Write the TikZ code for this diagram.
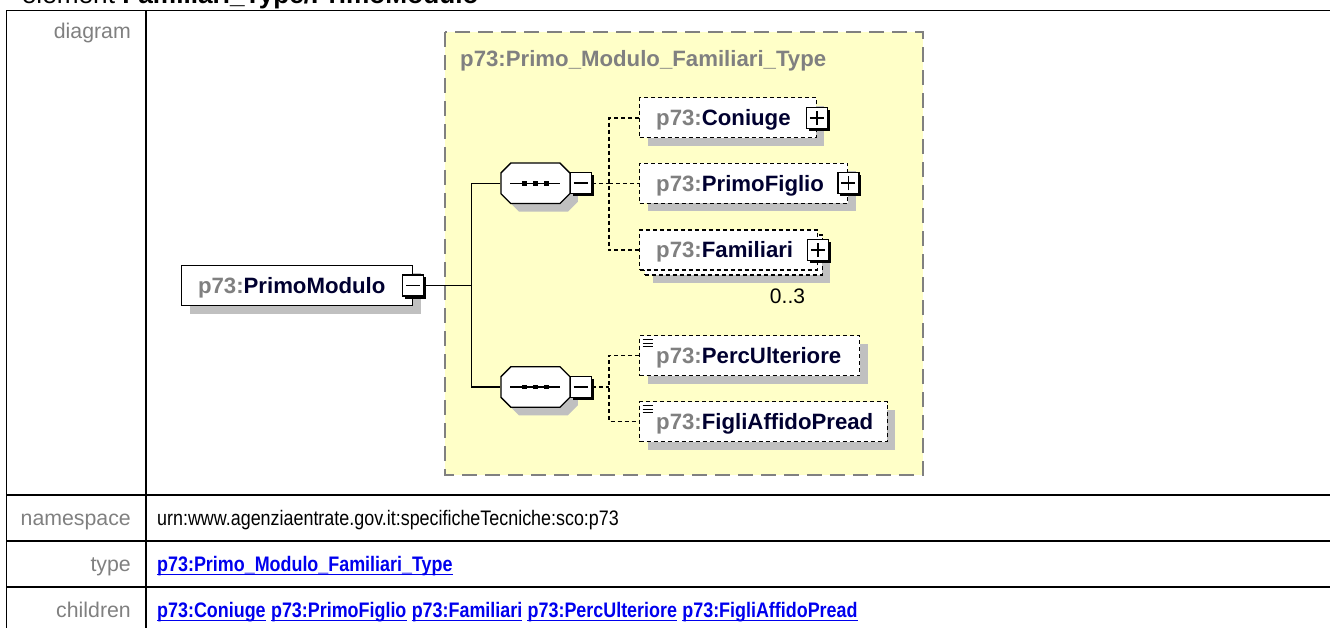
\documentclass[tikz,border=0pt]{standalone}
\usepackage{fontspec}
\setmainfont{Liberation Sans}
\newfontfamily\narrowfont[FakeStretch=0.853]{Liberation Sans}
\usetikzlibrary{shapes.misc,positioning}
\definecolor{labelgray}{RGB}{128,128,128}
\definecolor{linkblue}{RGB}{0,0,238}
\definecolor{typeyellow}{RGB}{255,255,200}
\definecolor{shadowgray}{RGB}{192,192,192}
\definecolor{namenavy}{RGB}{0,0,48}
\newcommand{\diagfont}{\fontsize{22.2}{26}\selectfont\bfseries}
\newcommand{\elname}[2]{\makebox[#1pt][l]{\hspace{16.5pt}\textcolor{labelgray}{p73:}#2}}

\tikzset{
  tablerule/.style={line width=1.6pt},
  rowlabel/.style={anchor=base east, inner sep=0pt, text=labelgray, font=\fontsize{21.3}{25}\selectfont},
  rowvalue/.style={anchor=base west, inner sep=0pt, font=\narrowfont\fontsize{21}{25}\selectfont},
  rowlink/.style={rowvalue, text=linkblue, font=\narrowfont\fontsize{21}{25}\selectfont\bfseries},
  typebox/.style={fill=typeyellow, draw=labelgray, line width=1.8pt, dash pattern=on 15pt off 8pt},
  shadowed/.style={preaction={fill=shadowgray, transform canvas={shift={(8pt,-8pt)}}}},
  elem/.style={draw, fill=white, line width=1.4pt, inner sep=0pt, minimum height=40pt,
    text height=15.9pt, text depth=0pt, anchor=west, font=\diagfont, text=namenavy},
  optional/.style={dash pattern=on 4pt off 3pt},
  simpletype/.style={path picture={
    \foreach \yy in {4,7.5,11}
      \draw[solid, black, line width=1.1pt] ([shift={(3pt,-\yy pt)}]path picture bounding box.north west) -- ++(10pt,0);}},
  signbox/.style={draw, fill=white, solid, line width=1.2pt, inner sep=0pt, minimum size=21pt,
    preaction={fill=black, transform canvas={shift={(2.5pt,-2.5pt)}}}},
  minusbox/.style={signbox, path picture={
    \draw[black, line width=1.6pt] (path picture bounding box.center) +(-7pt,0) -- +(7pt,0);}},
  plusbox/.style={signbox, path picture={
    \draw[black, line width=1.6pt] (path picture bounding box.center) +(-7pt,0) -- +(7pt,0)
      (path picture bounding box.center) +(0,-7pt) -- +(0,7pt);}},
  seqbox/.style={chamfered rectangle, chamfered rectangle xsep=5pt, chamfered rectangle ysep=5pt,
    draw, fill=white, line width=1.3pt, inner sep=0pt, text height=15.3pt, text depth=15.3pt, shadowed,
    path picture={
      \draw[black, line width=1.3pt] (path picture bounding box.center) +(-25pt,0) -- +(25pt,0);
      \foreach \dx in {-11,0,11}
        \fill[black] ([xshift=\dx pt]path picture bounding box.center) +(-2.4pt,-2.4pt) rectangle +(2.4pt,2.4pt);}},
  link/.style={line width=1.5pt},
  optlink/.style={line width=1.5pt, dash pattern=on 4pt off 3pt}
}

\begin{document}
\begin{tikzpicture}[x=1pt,y=-1pt]
    \clip (0,0) rectangle (1330,628);
    \def\colx{146}
    \def\rowa{494.7}
    \def\rowb{540.7}
    \def\rowc{586.7}
    \node[anchor=base west, inner sep=0pt, font=\fontsize{26.2}{30}\selectfont] (heading) at (21.7,4)
      {element \textbf{Familiari\_Type/PrimoModulo}};
    \draw[tablerule] (6.5,640) -- (6.5,10.7) -- (1340,10.7);
    \draw[tablerule] (\colx,10.7) -- (\colx,640);
    \foreach \y in {\rowa,\rowb,\rowc}
      \draw[tablerule] (6.5,\y) -- (1340,\y);
    \node[rowlabel] (lbldiagram) at (131,38.3) {diagram};
    \node[rowlabel] (lblnamespace) at (131,525.7) {namespace};
    \node[rowlabel] (lbltype) at (131,571.7) {type};
    \node[rowlabel] (lblchildren) at (131,617.3) {children};
    \node[rowvalue] (nsvalue) at (157,525.7) {urn:www.agenziaentrate.gov.it:specificheTecniche:sco:p73};
    \node[rowlink] (typelink) at (157,571.7) {p73:Primo\_Modulo\_Familiari\_Type};
    \node[rowlink] (childconiuge) at (157,617.3) {p73:Coniuge};
    \node[rowlink, base right=4.98pt of childconiuge] (childprimofiglio) {p73:PrimoFiglio};
    \node[rowlink, base right=4.98pt of childprimofiglio] (childfamiliari) {p73:Familiari};
    \node[rowlink, base right=4.98pt of childfamiliari] (childperc) {p73:PercUlteriore};
    \node[rowlink, base right=4.98pt of childperc] (childfigli) {p73:FigliAffidoPread};
    \foreach \n in {typelink,childconiuge,childprimofiglio,childfamiliari,childperc,childfigli}
      \draw[linkblue, line width=1.5pt] ([yshift=-3pt]\n.base west) -- ([yshift=-3pt]\n.base east);

    \draw[typebox] (445,32) rectangle (923,475);
    \node[anchor=base west, inner sep=0pt, font=\diagfont, text=labelgray] (typetitle) at (460,66.5)
      {p73:Primo\_Modulo\_Familiari\_Type};
    \node[elem, shadowed, line width=1.6pt] (modulo) at (180.7,285.5) {\elname{231}{PrimoModulo}};
    \node[minusbox] (modulominus) at (modulo.east) {};
    \node[seqbox] (seqa) at (535.4,183.3) {\rule{59pt}{0pt}};
    \node[minusbox, anchor=west, xshift=-1pt] (seqaminus) at (seqa.east) {};
    \node[seqbox] (seqb) at (535.4,387) {\rule{59pt}{0pt}};
    \node[minusbox, anchor=west, xshift=-1pt] (seqbminus) at (seqb.east) {};
    \node[elem, optional, shadowed] (coniuge) at (639,117.8) {\elname{176.5}{Coniuge}};
    \node[plusbox] (coniugeplus) at (coniuge.east) {};
    \node[elem, optional, shadowed] (primofiglio) at (639,183.3) {\elname{208}{PrimoFiglio}};
    \node[plusbox] (primofiglioplus) at (primofiglio.east) {};
    \node[elem, optional, shadowed] (familiariback) at (644,255) {\makebox[177.5pt]{}};
    \node[elem, optional] (familiari) at (639,250) {\elname{177.5}{Familiari}};
    \node[plusbox] (familiariplus) at (familiari.east) {};
    \node[inner sep=0pt, font=\fontsize{21}{24}\selectfont] (familiarioccurs) at (787.5,296) {0..3};
    \node[elem, optional, shadowed, simpletype] (perculteriore) at (639,355.7) {\elname{220}{PercUlteriore}};
    \node[elem, optional, shadowed, simpletype] (figliaffido) at (639,421.7) {\elname{247.5}{FigliAffidoPread}};

    \draw[link] (modulominus.east) -- ++(47,0) coordinate (fork);
    \draw[link] (seqa.west) -| (fork) |- (seqb.west);
    \draw[optlink] (seqaminus.east) -- ++(17,0) coordinate (fana);
    \draw[optlink] (coniuge.west) -| (fana) |- (familiari.west);
    \draw[optlink] (fana) -- (primofiglio.west);
    \draw[optlink] (seqbminus.east) -- ++(17,0) coordinate (fanb);
    \draw[optlink] (perculteriore.west) -| (fanb) |- (figliaffido.west);
\end{tikzpicture}
\end{document}
